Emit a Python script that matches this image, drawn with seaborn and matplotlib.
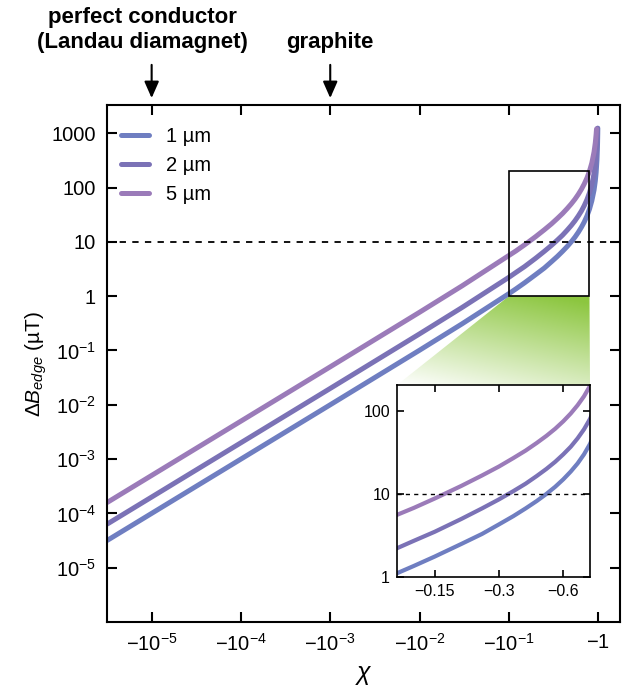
import numpy as np
import pandas as pd
import matplotlib
matplotlib.use("Agg")
import matplotlib.pyplot as plt
from matplotlib.patches import Polygon, Rectangle
from matplotlib.colors import LinearSegmentedColormap
import seaborn as sns

# =====================================================
# DATA (|chi| and field step)
# =====================================================

chi_1um = [3.2e-6, 1e-5, 1e-4, 1e-3, 1e-2, 0.03, 0.1, 0.12, 0.15, 0.2, 0.25,
           0.3, 0.35, 0.4, 0.45, 0.5, 0.55, 0.6, 0.65, 0.7, 0.75, 0.8, 0.85,
           0.9, 0.93, 0.95, 0.97, 0.98, 0.985, 0.99, 0.992]
dB_1um = [3.2e-5, 1.0e-4, 1.0e-3, 1.0e-2, 0.101, 0.31, 1.11, 1.36, 1.76, 2.5, 3.3,
          4.3, 5.4, 6.7, 8.2, 10.0, 12.2, 15.0, 18.6, 23.3, 30.0, 40.0, 57.0,
          90.0, 133.0, 190.0, 323.0, 490.0, 657.0, 990.0, 1240.0]

chi_2um = [3.2e-6, 1e-5, 1e-4, 1e-3, 1e-2, 0.03, 0.1, 0.12, 0.15, 0.2, 0.25,
           0.3, 0.35, 0.4, 0.45, 0.5, 0.55, 0.6, 0.65, 0.7, 0.75, 0.8, 0.85,
           0.9, 0.93, 0.95, 0.97, 0.98, 0.984]
dB_2um = [6.4e-5, 2.0e-4, 2.0e-3, 2.0e-2, 0.202, 0.62, 2.22, 2.73, 3.5, 5.0, 6.7,
          8.6, 10.8, 13.3, 16.4, 20.0, 24.4, 30.0, 37.0, 46.7, 60.0, 80.0, 113.0,
          180.0, 266.0, 380.0, 647.0, 980.0, 1230.0]

chi_5um = [3.2e-6, 1e-5, 1e-4, 1e-3, 1e-2, 0.03, 0.1, 0.12, 0.15, 0.2, 0.25,
           0.3, 0.35, 0.4, 0.45, 0.5, 0.55, 0.6, 0.65, 0.7, 0.75, 0.8, 0.85,
           0.9, 0.93, 0.95, 0.96]
dB_5um = [1.6e-4, 5.0e-4, 5.0e-3, 5.0e-2, 0.505, 1.55, 5.6, 6.8, 8.8, 12.5, 16.7,
          21.4, 27.0, 33.3, 41.0, 50.0, 61.0, 75.0, 93.0, 117.0, 150.0, 200.0, 283.0,
          450.0, 664.0, 950.0, 1200.0]

labels = ["1 µm", "2 µm", "5 µm"]
colors = ["#6f7ec1", "#7b72b6", "#9b7bb9"]

x_ticks = [1e-5, 1e-4, 1e-3, 1e-2, 1e-1, 1]
x_ticklabels = [r"$-10^{-5}$", r"$-10^{-4}$", r"$-10^{-3}$", r"$-10^{-2}$",
                r"$-10^{-1}$", r"$-1$"]
y_ticks = [1e3, 1e2, 1e1, 1, 1e-1, 1e-2, 1e-3, 1e-4, 1e-5]
y_ticklabels = ["1000", "100", "10", "1", r"$10^{-1}$", r"$10^{-2}$",
                r"$10^{-3}$", r"$10^{-4}$", r"$10^{-5}$"]
ins_x_ticks = [0.15, 0.3, 0.6]
ins_x_ticklabels = ["\u22120.15", "\u22120.3", "\u22120.6"]
ins_y_ticks = [1, 10, 100]
ins_y_ticklabels = ["1", "10", "100"]

# =====================================================
# STYLE
# =====================================================

sns.set_style("ticks")
plt.rcParams["font.family"] = ["Liberation Sans", "DejaVu Sans"]
plt.rcParams["mathtext.fontset"] = "custom"
plt.rcParams["mathtext.rm"] = "Liberation Sans"
plt.rcParams["mathtext.it"] = "Liberation Sans:italic"
plt.rcParams["mathtext.bf"] = "Liberation Sans:bold"
plt.rcParams["axes.linewidth"] = 1.5
for key in ["text.color", "axes.labelcolor", "xtick.color", "ytick.color",
            "axes.edgecolor"]:
    plt.rcParams[key] = "black"

df = pd.concat([
    pd.DataFrame({"chi": chi_1um, "dB": dB_1um, "t": labels[0]}),
    pd.DataFrame({"chi": chi_2um, "dB": dB_2um, "t": labels[1]}),
    pd.DataFrame({"chi": chi_5um, "dB": dB_5um, "t": labels[2]}),
])
palette = dict(zip(labels, colors))

fig = plt.figure(figsize=(6.23, 6.87), dpi=100)
fig.patch.set_facecolor("white")

# background axes for the green zoom wedge
bg = fig.add_axes([0, 0, 1, 1])
bg.set_xlim(0, 1)
bg.set_ylim(0, 1)
bg.axis("off")
bg.set_zorder(0)

ax = fig.add_axes([107 / 623, 65 / 687, 513 / 623, 517 / 687])
ax.set_zorder(1)
ax.patch.set_visible(False)

axins = fig.add_axes([397 / 623, 110 / 687, 193 / 623, 192 / 687])
axins.set_zorder(2)
axins.set_facecolor("white")

# =====================================================
# MAIN PLOT
# =====================================================

sns.lineplot(data=df, x="chi", y="dB", hue="t", palette=palette,
             estimator=None, lw=3.6, ax=ax)
ax.set_xscale("log")
ax.set_yscale("log")
ax.set_xlim(10 ** -5.5, 10 ** 0.245)
ax.set_ylim(1e-6, 10 ** 3.52)

ax.axhline(10, color="black", lw=1.3, ls=(0, (3.5, 3.5)), zorder=3)
ax.add_patch(Rectangle((0.1, 1), 0.7, 199, fill=False, ec="black", lw=1.2, zorder=4))

ax.set_xticks(x_ticks, x_ticklabels)
ax.set_yticks(y_ticks, y_ticklabels)
ax.minorticks_off()
ax.tick_params(direction="in", length=7, width=1.5, labelsize=14.5, pad=8,
               top=True, right=True)
for s in ax.spines.values():
    s.set_visible(True)

ax.set_xlabel(r"$\chi$", fontsize=18, labelpad=6)
ax.set_ylabel(r"$\mathit{\Delta}B_{edge}$ (µT)", fontsize=15, labelpad=2)

leg = ax.legend(loc="upper left", frameon=False, fontsize=14.5,
                handlelength=1.4, handletextpad=0.85, labelspacing=0.5,
                borderaxespad=0.3, bbox_to_anchor=(0.0, 0.985))
for line in leg.get_lines():
    line.set_linewidth(3.6)
leg.set_title(None)

# arrows and annotations
for xpos in [1e-5, 1e-3]:
    ax.annotate("", xy=(xpos, 1.008), xycoords=("data", "axes fraction"),
                xytext=(xpos, 1.083), textcoords=("data", "axes fraction"),
                arrowprops=dict(arrowstyle="-|>,head_length=0.5,head_width=0.22",
                                color="black", lw=1.5, mutation_scale=20))
ax.text(10 ** -5.1, 1.170, "perfect conductor", transform=ax.get_xaxis_transform(),
        ha="center", va="center", fontsize=16, fontweight="bold")
ax.text(10 ** -5.1, 1.120, "(Landau diamagnet)", transform=ax.get_xaxis_transform(),
        ha="center", va="center", fontsize=16, fontweight="bold")
ax.text(1e-3, 1.120, "graphite", transform=ax.get_xaxis_transform(),
        ha="center", va="center", fontsize=16, fontweight="bold")

# =====================================================
# INSET
# =====================================================

sns.lineplot(data=df, x="chi", y="dB", hue="t", palette=palette,
             estimator=None, lw=3.0, ax=axins, legend=False)
axins.set_xscale("log")
axins.set_yscale("log")
axins.set_xlim(0.1, 0.8)
axins.set_ylim(1, 205)
axins.axhline(10, color="black", lw=1.0, ls=(0, (3, 3)), zorder=3)
axins.set_xticks(ins_x_ticks, ins_x_ticklabels)
axins.set_yticks(ins_y_ticks, ins_y_ticklabels)
axins.minorticks_off()
axins.tick_params(direction="in", length=5, width=1.2, labelsize=11.5, pad=5,
                  top=True, right=True)
axins.set_xlabel("")
axins.set_ylabel("")
for s in axins.spines.values():
    s.set_visible(True)
    s.set_linewidth(1.2)

# =====================================================
# GREEN WEDGE (from box to inset)
# =====================================================

to_fig = fig.transFigure.inverted()
p1 = to_fig.transform(ax.transData.transform((0.1, 1)))
p2 = to_fig.transform(ax.transData.transform((0.8, 1)))
p3 = to_fig.transform(axins.transAxes.transform((1, 1)))
p4 = to_fig.transform(axins.transAxes.transform((0, 1)))
pts = np.array([p1, p2, p3, p4])

xmin, xmax = pts[:, 0].min(), pts[:, 0].max()
ymin, ymax = pts[:, 1].min(), pts[:, 1].max()
gx, gy = np.meshgrid(np.linspace(0, 1, 200), np.linspace(0, 1, 200))
grad = np.clip(0.72 * gy + 0.33 * gx, 0, 1)

green = LinearSegmentedColormap.from_list("wg", ["#ffffff", "#8cc63f"])
poly = Polygon(pts, closed=True, fc="none", ec="none")
bg.add_patch(poly)
im = bg.imshow(grad, extent=(xmin, xmax, ymin, ymax), origin="lower",
               cmap=green, vmin=0, vmax=1, aspect="auto", interpolation="bilinear")
im.set_clip_path(poly)

fig.savefig("out.png", dpi=100)
plt.close()
